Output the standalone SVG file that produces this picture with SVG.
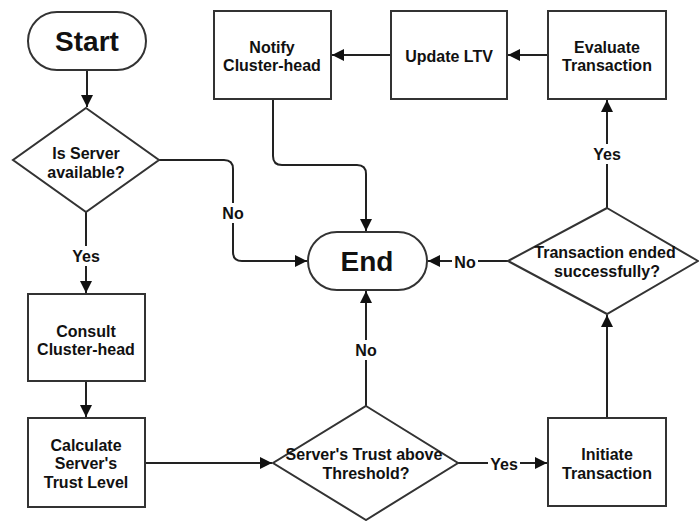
<svg xmlns="http://www.w3.org/2000/svg" width="699" height="521" viewBox="0 0 699 521">
  <style>
    .shape { fill: #ffffff; stroke: #333333; stroke-width: 2; }
    .edge { fill: none; stroke: #222222; stroke-width: 2; }
    text { font-family: "Liberation Sans", Arial, Helvetica, sans-serif; font-weight: bold; fill: #111111; text-anchor: middle; }
    .lbl { font-size: 16px; }
    .big { font-size: 28px; }
    .elabel { font-size: 16px; }
    .bg { fill: #ffffff; stroke: none; }
  </style>
  <defs>
    <marker id="arrow" viewBox="0 0 12 12" refX="12" refY="6" markerWidth="12" markerHeight="12" markerUnits="userSpaceOnUse" orient="auto">
      <path d="M0,0 L12,6 L0,12 z" fill="#111111"/>
    </marker>
  </defs>

  <rect width="699" height="521" fill="#ffffff"/>

  <!-- connectors -->
  <g id="connectors">
    <path class="edge" d="M87,70 V107" marker-end="url(#arrow)"/>
    <path class="edge" d="M159,160 H224 Q233,160 233,169 V252 Q233,261 242,261 H307" marker-end="url(#arrow)"/>
    <path class="edge" d="M86,212 V293" marker-end="url(#arrow)"/>
    <path class="edge" d="M86,381 V417" marker-end="url(#arrow)"/>
    <path class="edge" d="M145,463 H272" marker-end="url(#arrow)"/>
    <path class="edge" d="M366,406 V291" marker-end="url(#arrow)"/>
    <path class="edge" d="M458,463 H547" marker-end="url(#arrow)"/>
    <path class="edge" d="M607,418 V315" marker-end="url(#arrow)"/>
    <path class="edge" d="M508,261 H428" marker-end="url(#arrow)"/>
    <path class="edge" d="M607,208 V100" marker-end="url(#arrow)"/>
    <path class="edge" d="M548,55 H508" marker-end="url(#arrow)"/>
    <path class="edge" d="M391,55 H332" marker-end="url(#arrow)"/>
    <path class="edge" d="M273,99 V156 Q273,165 282,165 H357 Q366,165 366,174 V231" marker-end="url(#arrow)"/>

    <!-- edge labels -->
    <rect class="bg" x="220" y="203" width="26" height="20"/>
    <text class="elabel" x="233" y="219">No</text>
    <rect class="bg" x="70" y="246" width="32" height="20"/>
    <text class="elabel" x="86" y="262">Yes</text>
    <rect class="bg" x="452" y="252" width="26" height="20"/>
    <text class="elabel" x="465" y="268">No</text>
    <rect class="bg" x="591" y="144" width="32" height="20"/>
    <text class="elabel" x="607" y="160">Yes</text>
    <rect class="bg" x="353" y="340" width="26" height="20"/>
    <text class="elabel" x="366" y="356">No</text>
    <rect class="bg" x="488" y="454" width="32" height="20"/>
    <text class="elabel" x="504" y="470">Yes</text>
  </g>

  <g id="start">
    <rect class="shape" x="28" y="12" width="118" height="58" rx="29" ry="29"/>
    <text class="big" x="87" y="51">Start</text>
  </g>

  <g id="is-server-available">
    <polygon class="shape" points="86,108 159,160 86,212 13,160"/>
    <text class="lbl" x="86" y="159">Is Server</text>
    <text class="lbl" x="86" y="178">available?</text>
  </g>

  <g id="consult-cluster-head">
    <rect class="shape" x="28" y="294" width="117" height="87"/>
    <text class="lbl" x="86" y="337">Consult</text>
    <text class="lbl" x="86" y="355">Cluster-head</text>
  </g>

  <g id="calculate-trust">
    <rect class="shape" x="28" y="418" width="117" height="89"/>
    <text class="lbl" x="86" y="451">Calculate</text>
    <text class="lbl" x="86" y="469">Server's</text>
    <text class="lbl" x="86" y="488">Trust Level</text>
  </g>

  <g id="trust-above-threshold">
    <polygon class="shape" points="366,406 458,463 366,520 273,463"/>
    <text class="lbl" x="364" y="460">Server's Trust above</text>
    <text class="lbl" x="366" y="479">Threshold?</text>
  </g>

  <g id="initiate-transaction">
    <rect class="shape" x="548" y="418" width="118" height="88"/>
    <text class="lbl" x="607" y="460">Initiate</text>
    <text class="lbl" x="607" y="479">Transaction</text>
  </g>

  <g id="transaction-ended">
    <polygon class="shape" points="607,208 698,261 607,314 508,261"/>
    <text class="lbl" x="605" y="258">Transaction ended</text>
    <text class="lbl" x="607" y="277">successfully?</text>
  </g>

  <g id="end">
    <rect class="shape" x="308" y="232" width="119" height="58" rx="29" ry="29"/>
    <text class="big" x="367" y="271">End</text>
  </g>

  <g id="evaluate-transaction">
    <rect class="shape" x="548" y="11" width="118" height="88"/>
    <text class="lbl" x="607" y="53">Evaluate</text>
    <text class="lbl" x="607" y="71">Transaction</text>
  </g>

  <g id="update-ltv">
    <rect class="shape" x="391" y="11" width="116" height="88"/>
    <text class="lbl" x="449" y="62">Update LTV</text>
  </g>

  <g id="notify-cluster-head">
    <rect class="shape" x="214" y="11" width="117" height="88"/>
    <text class="lbl" x="272" y="53">Notify</text>
    <text class="lbl" x="272" y="71">Cluster-head</text>
  </g>
</svg>
